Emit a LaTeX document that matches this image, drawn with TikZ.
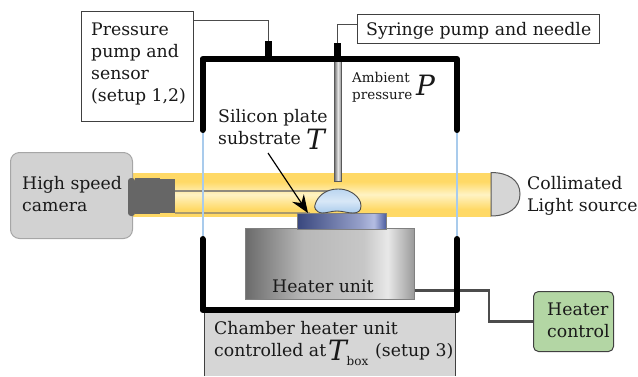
\documentclass[tikz,border=0pt]{standalone}
\usepackage{fontspec}
\setmainfont{DejaVu Serif}
\usetikzlibrary{arrows.meta,calc}
\pgfdeclarehorizontalshading{heatershade}{100bp}{color(0bp)=(black!60!white); color(25bp)=(black!58!white); color(42bp)=(black!28!white); color(60bp)=(black!22!white); color(67bp)=(black!9!white); color(75bp)=(black!40!white); color(100bp)=(black!40!white)}
\definecolor{subA}{HTML}{39477E}
\definecolor{subB}{HTML}{B4BDE2}
\definecolor{subC}{HTML}{4A5B9E}
\pgfdeclarehorizontalshading{substrateshade}{100bp}{color(0bp)=(subA); color(25bp)=(subA); color(60bp)=(subB!75!subA); color(68bp)=(subB); color(75bp)=(subC); color(100bp)=(subC)}
\definecolor{gold}{HTML}{FFD966}
\definecolor{pale}{HTML}{FFF3C4}
\definecolor{winblue}{HTML}{A9CBEC}
\definecolor{camfill}{HTML}{D2D2D2}
\definecolor{greenbox}{HTML}{B3D6A4}
\definecolor{lensgray}{HTML}{666666}
\pgfdeclareverticalshading{beamshade}{100bp}{color(0bp)=(gold); color(25bp)=(gold); color(33bp)=(gold); color(50bp)=(pale); color(65bp)=(gold); color(75bp)=(gold); color(100bp)=(gold)}
\tikzset{
  lbl/.style={anchor=base west,inner sep=0pt,align=left,font=\fontsize{17.3}{22}\selectfont,text=black!90},
  biglbl/.style={lbl,font=\fontsize{28}{28}\selectfont\itshape},
  whitebox/.style={draw=black!75,fill=white,line width=1pt,anchor=north west,inner sep=0pt},
  wall/.style={line width=6pt,black,line cap=round,line join=round},
  glass/.style={line width=2pt,winblue},
  thinwire/.style={draw=black!70,line width=1pt},
  thickwire/.style={draw=black!70,line width=2.4pt},
  solid block/.style={fill=black,inner sep=0pt,anchor=north west},
}
\begin{document}
\begin{tikzpicture}[x=1pt,y=-1pt]
\useasboundingbox (0,0) rectangle (638,376);
% light beam
\path[shading=beamshade] (132,173) rectangle (491,216);
% shadow lines
\draw[black!55,opacity=.8,line width=2.4pt] (175,191) -- (330,191);
\draw[black!55,opacity=.6,line width=2pt] (175,212.5) -- (310,212.5);
% chamber heater
\fill[black!16] (204,312) rectangle (455,376);
\draw[black!75,line width=1pt] (204,312) -- (204,376) (455,312) -- (455,376);
% heater wire
\node[draw=black!75,fill=greenbox,rounded corners=5pt,line width=1pt,anchor=north west,minimum width=80pt,minimum height=60pt,inner sep=0pt] (hctrl) at (533,291) {};
\node[draw=black!50,shading=heatershade,line width=1pt,anchor=north west,minimum width=169pt,minimum height=71pt,inner sep=0pt] (heater) at (245,228) {};
\coordinate (hw) at ($(heater.north east)+(0,62.5)$);
\draw[thickwire] (hw) -- (489,290.5) |- (hctrl.west);
% substrate
\node[draw=black!50,shading=substrateshade,line width=.8pt,anchor=north west,minimum width=89pt,minimum height=15.5pt,inner sep=0pt] (subs) at (297,213) {};
% droplet
\draw[black!70,line width=.9pt,top color=winblue!80!white,bottom color=winblue,middle color=winblue!45!white]
  (322,213) .. controls (315,212) and (314,207) .. (315,205)
  .. controls (317,197) and (325,189) .. (338,189)
  .. controls (347,189) and (351,192) .. (354,194)
  .. controls (358,197) and (361,201) .. (361,206)
  .. controls (361,211) and (358,213) .. (353,213)
  .. controls (348,213) and (342,211) .. (337,211)
  .. controls (332,211) and (327,213) .. (322,213) -- cycle;
% needle
\node[draw=black!65,left color=black!55,right color=black!45,middle color=black!10,line width=.8pt,anchor=north west,minimum width=7pt,minimum height=121pt,inner sep=0pt] (needle) at (334,60) {};
% glass windows
\draw[glass] (202.5,131) -- (202.5,238);
\draw[glass] (457,131) -- (457,238);
% chamber walls
\draw[wall] (202.5,130) -- (202.5,59) -- (457,59) -- (457,130);
\draw[wall] (202.5,239) -- (202.5,310) -- (457,310) -- (457,239);
% ports
\node[solid block,minimum width=6.5pt,minimum height=18pt] (pport) at (265,41) {};
\node[solid block,minimum width=6.5pt,minimum height=16pt] (nport) at (334.2,43) {};
% boxes
\node[whitebox,minimum width=112pt,minimum height=110pt] (press) at (81,11) {};
\node[whitebox,minimum width=242pt,minimum height=29pt] (syr) at (357,14) {};
\coordinate (pw) at ($(press.north east)+(0,9)$);
\coordinate (sw) at ($(syr.north west)+(0,10)$);
\draw[thinwire] (pw) -| (pport.north);
\draw[thinwire] (sw) -| (nport.north);
% camera
\node[draw=black!35,fill=camfill,rounded corners=9pt,line width=1pt,anchor=north west,minimum width=122pt,minimum height=86pt,inner sep=0pt] (cam) at (10,152) {};
% lens
\fill[lensgray,rounded corners=3pt] (128,178) rectangle (135,216);
\fill[lensgray] (135,178) rectangle (160,214);
\fill[lensgray] (160,179) rectangle (175,213);
% lamp
\draw[black!65,fill=black!16,line width=1pt] (491,172.5) .. controls (508,172.5) and (520,180) .. (520,194) .. controls (520,208) and (508,216) .. (491,216) -- cycle;
% arrow
\coordinate (arrS) at (268,153);
\draw[-{Stealth[length=18pt,width=14pt,inset=6pt]},line width=1.2pt,black] (arrS) -- (308,213);
% labels
\node[lbl] (t1) at (22,211) {High speed\\camera};
\node[lbl] (t2) at (527,211) {Collimated\\Light source};
\node[lbl] (t3) at (91,101) {Pressure\\pump and\\sensor\\(setup 1,2)};
\node[lbl] (t4) at (366,35) {Syringe pump and needle};
\node[lbl] (t5) at (218,144) {Silicon plate\\substrate};
\node[biglbl] (t6) at (306,149) {T};
\node[lbl,font=\fontsize{13.5}{17}\selectfont] (t7) at (352,99) {Ambient\\pressure};
\node[biglbl] (t8) at (416,95) {P};
\node[lbl] (t9) at (272,292) {Heater unit};
\node[lbl] (t10) at (214,356) {Chamber heater unit\\controlled at};
\node[biglbl] (t11) at (328,360) {T};
\node[lbl,font=\fontsize{12}{12}\selectfont] (t12) at (346.5,365) {box};
\node[lbl] (t13) at (375,356) {(setup 3)};
\node[lbl] (t14) at (547,337) {Heater\\control};
\end{tikzpicture}
\end{document}
